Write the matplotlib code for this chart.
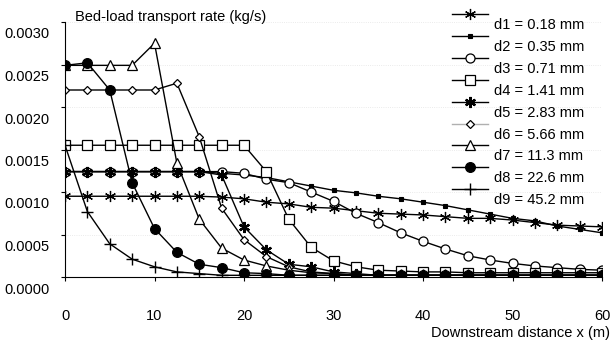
import matplotlib
matplotlib.use("Agg")
import matplotlib.pyplot as plt
import matplotlib.transforms as mtransforms
from matplotlib.lines import Line2D

plt.rcParams['font.family'] = ['Liberation Sans', 'DejaVu Sans']
plt.rcParams['font.size'] = 10.5

# downstream distance (m)
x_dist = [0, 2.5, 5, 7.5, 10, 12.5, 15, 17.5, 20, 22.5, 25, 27.5, 30,
          32.5, 35, 37.5, 40, 42.5, 45, 47.5, 50, 52.5, 55, 57.5, 60]

# bed-load transport rate (kg/s) for each grain size
d1 = [0.00095, 0.00095, 0.00095, 0.00095, 0.00095, 0.00095, 0.00095, 0.00094,
      0.00092, 0.00088, 0.00086, 0.00082, 0.00081, 0.00078, 0.00075, 0.00074,
      0.00073, 0.00071, 0.00069, 0.00069, 0.00067, 0.00064, 0.00061, 0.00060,
      0.00059]
d2 = [0.00124, 0.00124, 0.00124, 0.00124, 0.00124, 0.00124, 0.00124, 0.00122,
      0.00120, 0.00117, 0.00112, 0.00107, 0.00102, 0.00099, 0.00095, 0.00092,
      0.00088, 0.00084, 0.00079, 0.00074, 0.00069, 0.00066, 0.00060, 0.00056,
      0.00052]
d3 = [0.00124, 0.00124, 0.00124, 0.00124, 0.00124, 0.00124, 0.00124, 0.00124,
      0.00122, 0.00115, 0.00111, 0.00100, 0.00089, 0.00075, 0.00064, 0.00052,
      0.00042, 0.00033, 0.00025, 0.00020, 0.00016, 0.00013, 0.00011, 0.00009,
      0.00008]
d4 = [0.00155, 0.00155, 0.00155, 0.00155, 0.00155, 0.00155, 0.00155, 0.00155,
      0.00155, 0.00124, 0.00068, 0.00035, 0.00019, 0.00012, 0.00008, 0.00007,
      0.00006, 0.00006, 0.00005, 0.00005, 0.00005, 0.00005, 0.00005, 0.00005,
      0.00005]
d5 = [0.00124, 0.00124, 0.00124, 0.00124, 0.00124, 0.00124, 0.00124, 0.00120,
      0.00059, 0.00032, 0.00015, 0.00012, 0.00006, 0.00004, 0.00002, 0.00002,
      0.00002, 0.00002, 0.00002, 0.00002, 0.00002, 0.00002, 0.00002, 0.00002,
      0.00002]
d6 = [0.00220, 0.00220, 0.00220, 0.00220, 0.00220, 0.00228, 0.00165, 0.00081,
      0.00044, 0.00024, 0.00012, 0.00006, 0.00004, 0.00002, 0.00002, 0.00002,
      0.00002, 0.00002, 0.00002, 0.00002, 0.00002, 0.00002, 0.00002, 0.00002,
      0.00002]
d7 = [0.00249, 0.00249, 0.00249, 0.00249, 0.00275, 0.00134, 0.00068, 0.00034,
      0.00020, 0.00013, 0.00008, 0.00005, 0.00004, 0.00002, 0.00002, 0.00002,
      0.00002, 0.00002, 0.00002, 0.00002, 0.00002, 0.00002, 0.00002, 0.00002,
      0.00002]
d8 = [0.00249, 0.00252, 0.00220, 0.00111, 0.00057, 0.00029, 0.00015, 0.00011,
      0.00005, 0.00004, 0.00002, 0.00002, 0.00002, 0.00002, 0.00002, 0.00002,
      0.00002, 0.00002, 0.00002, 0.00002, 0.00002, 0.00002, 0.00002, 0.00002,
      0.00002]
d9 = [0.00155, 0.00077, 0.00039, 0.00021, 0.00012, 0.00006, 0.00004, 0.00002,
      0.00002, 0.00002, 0.00002, 0.00002, 0.00002, 0.00002, 0.00002, 0.00002,
      0.00002, 0.00002, 0.00002, 0.00002, 0.00002, 0.00002, 0.00002, 0.00002,
      0.00002]

series = [d1, d2, d3, d4, d5, d6, d7, d8, d9]
labels = ["d1 = 0.18 mm", "d2 = 0.35 mm", "d3 = 0.71 mm", "d4 = 1.41 mm",
          "d5 = 2.83 mm", "d6 = 5.66 mm", "d7 = 11.3 mm", "d8 = 22.6 mm",
          "d9 = 45.2 mm"]
y_ticks = [0.0, 0.0005, 0.0010, 0.0015, 0.0020, 0.0025, 0.0030]
x_ticks = [0, 10, 20, 30, 40, 50, 60]

# marker style per series
styles = [
    dict(marker=(6, 2, 0), ms=8, mew=0.9, mfc='black'),
    dict(marker='s', ms=3.5, mew=0.8, mfc='black'),
    dict(marker='o', ms=6.5, mew=0.9, mfc='white'),
    dict(marker='s', ms=6.5, mew=0.9, mfc='white'),
    dict(marker=(6, 2, 0), ms=8, mew=1.6, mfc='black'),
    dict(marker='D', ms=4.5, mew=0.9, mfc='white'),
    dict(marker='^', ms=6.5, mew=0.9, mfc='white'),
    dict(marker='o', ms=7, mew=0.9, mfc='black'),
    dict(marker='+', ms=8, mew=1.0, mfc='black'),
]

fig = plt.figure(figsize=(6.13, 3.45), dpi=100)
ax = fig.add_axes([65 / 613, 1 - 277 / 345, 537 / 613, 255 / 345])

for vals, st in zip(series, styles):
    ax.plot(x_dist, vals, color='black', lw=1.0, mec='black', **st)

ax.set_xlim(0, 60)
ax.set_ylim(0, 0.0030)
ax.set_xticks(x_ticks)
ax.set_yticks(y_ticks)
ax.set_yticklabels([f"{v:.4f}" for v in y_ticks])
ax.set_xticklabels([str(v) for v in x_ticks])
ax.tick_params(axis='y', length=3, width=0.8, pad=8, labelsize=10.5)
ax.tick_params(axis='x', length=3, width=0.8, pad=20, labelsize=10.5)
for s in ['top', 'right']:
    ax.spines[s].set_visible(False)
for s in ['left', 'bottom']:
    ax.spines[s].set_linewidth(0.8)

# very faint dotted grid, mostly lost in the scan
ax.yaxis.grid(True, linestyle=':', color='#e4e4e4', lw=0.6)
ax.set_axisbelow(True)

# y labels sit a little below their ticks in the original
offset = mtransforms.ScaledTranslation(0, -0.11, fig.dpi_scale_trans)
for lab in ax.get_yticklabels():
    lab.set_transform(lab.get_transform() + offset)

fig.text(75 / 613, 1 - 17 / 345, "Bed-load transport rate (kg/s)",
         ha='left', va='center', fontsize=10.5)
fig.text(610 / 613, 1 - 333 / 345, "Downstream distance x (m)",
         ha='right', va='center', fontsize=10.5)

# legend: sample line above each label
for i, (lab, st) in enumerate(zip(labels, styles)):
    yl = 1 - (14 + 21.9 * i) / 345
    lcol = '#b0b0b0' if i == 5 else 'black'
    ln = Line2D([452 / 613, 470 / 613, 488 / 613], [yl, yl, yl],
                transform=fig.transFigure, color=lcol, lw=1.0,
                mec='black', markevery=[1], **st)
    fig.add_artist(ln)
    fig.text(494 / 613, 1 - (25 + 21.9 * i) / 345, lab,
             ha='left', va='center', fontsize=10.5)

fig.savefig("out.png", dpi=100)
